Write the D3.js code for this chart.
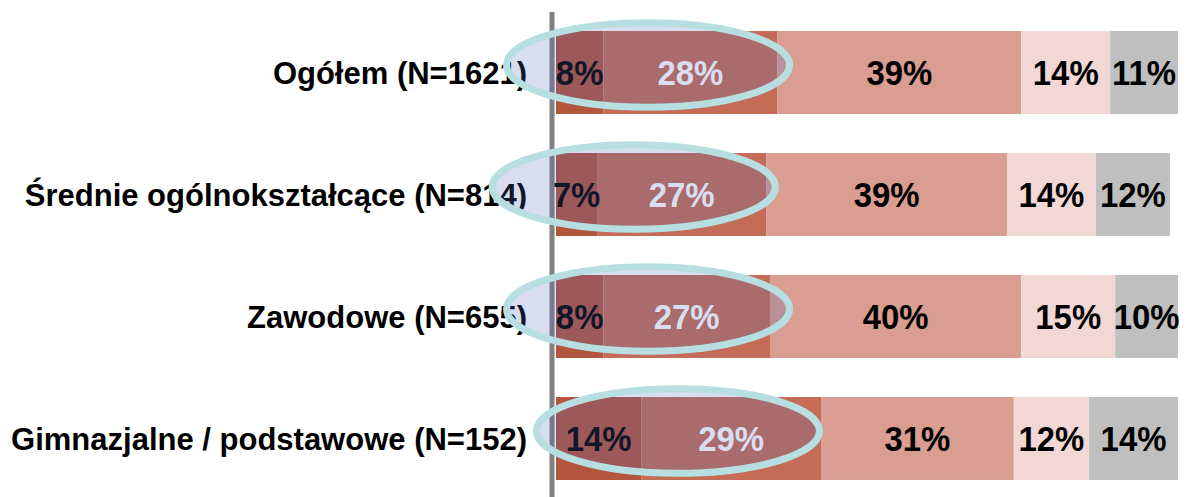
<!DOCTYPE html>
<html>
<head>
<meta charset="utf-8">
<script src="https://cdn.jsdelivr.net/npm/d3@7"></script>
<style>
  body { margin: 0; background: #fff; }
  text { font-family: "Liberation Sans", Arial, sans-serif; font-weight: bold; }
</style>
</head>
<body>
<div id="chart"></div>
<script>
var width = 1197;
var height = 497;

// categories (top to bottom)
const categories = ["Ogółem (N=1621)", "Średnie ogólnokształcące (N=814)", "Zawodowe (N=655)", "Gimnazjalne / podstawowe (N=152)"];
// series values, % (left to right)
const s1 = [7.6, 6.6, 7.6, 13.7];
const s2 = [28.0, 27.2, 26.8, 28.9];
const s3 = [39.2, 38.7, 40.4, 31.0];
const s4 = [14.3, 14.3, 15.1, 12.1];
const s5 = [10.9, 11.9, 10.1, 14.3];
// printed labels
const labels1 = ["8%", "7%", "8%", "14%"];
const labels2 = ["28%", "27%", "27%", "29%"];
const labels3 = ["39%", "39%", "40%", "31%"];
const labels4 = ["14%", "14%", "15%", "12%"];
const labels5 = ["11%", "12%", "10%", "14%"];
// highlight ellipses: centre on the % axis
const ellipseCentre = [14.8, 12.5, 14.8, 19.6];

const colors = ["#b4553e", "#c46c57", "#d99d91", "#f1d8d4", "#bfbfbf"];
const labelColors = ["#000", "#fff", "#000", "#000", "#000"];

var series = [s1, s2, s3, s4, s5];
var seriesLabels = [labels1, labels2, labels3, labels4, labels5];

var svg = d3.select("#chart").append("svg")
    .attr("width", width)
    .attr("height", height);

var x = d3.scaleLinear().domain([0, 100]).range([556, 1178]);
var y = d3.scaleBand().domain(categories).range([11.5, 499.5])
    .paddingInner(0.32).paddingOuter(0.16);

// build stacked segments
var segs = [];
categories.forEach(function (c, i) {
    var acc = 0;
    series.forEach(function (s, k) {
        segs.push({ cat: c, k: k, x0: acc, x1: acc + s[i], label: seriesLabels[k][i] });
        acc += s[i];
    });
});

svg.selectAll(".seg")
    .data(segs).enter().append("rect")
    .attr("class", "seg")
    .attr("x", function (d) { return x(d.x0); })
    .attr("y", function (d) { return y(d.cat); })
    .attr("width", function (d) { return x(d.x1) - x(d.x0); })
    .attr("height", y.bandwidth())
    .attr("fill", function (d) { return colors[d.k]; });

// value labels (slightly narrow, like the original)
svg.selectAll(".val")
    .data(segs).enter().append("text")
    .attr("class", "val")
    .attr("transform", function (d) {
        return "translate(" + x((d.x0 + d.x1) / 2) + "," + (y(d.cat) + y.bandwidth() / 2) + ") scale(0.94,1)";
    })
    .attr("text-anchor", "middle")
    .attr("dy", "0.36em")
    .style("font-size", "35px")
    .attr("fill", function (d) { return labelColors[d.k]; })
    .text(function (d) { return d.label; });

// category labels
svg.selectAll(".cat")
    .data(categories).enter().append("text")
    .attr("class", "cat")
    .attr("x", 527)
    .attr("y", function (d) { return y(d) + y.bandwidth() / 2; })
    .attr("dy", "0.36em")
    .attr("text-anchor", "end")
    .style("font-size", "31px")
    .attr("fill", "#000")
    .text(function (d) { return d; });

// vertical axis line
svg.append("line")
    .attr("x1", 552).attr("x2", 552)
    .attr("y1", 12).attr("y2", height)
    .attr("stroke", "#808080")
    .attr("stroke-width", 5);

// highlight ellipses on top
svg.selectAll(".hl")
    .data(categories).enter().append("ellipse")
    .attr("class", "hl")
    .attr("cx", function (d, i) { return x(ellipseCentre[i]); })
    .attr("cy", function (d) { return y(d) + y.bandwidth() * 0.41; })
    .attr("rx", x(22.75) - x(0))
    .attr("ry", y.bandwidth() * 0.51)
    .attr("fill", "#4e69bb")
    .attr("fill-opacity", 0.22)
    .attr("stroke", "#b7dfe2")
    .attr("stroke-width", 7);
</script>
</body>
</html>
